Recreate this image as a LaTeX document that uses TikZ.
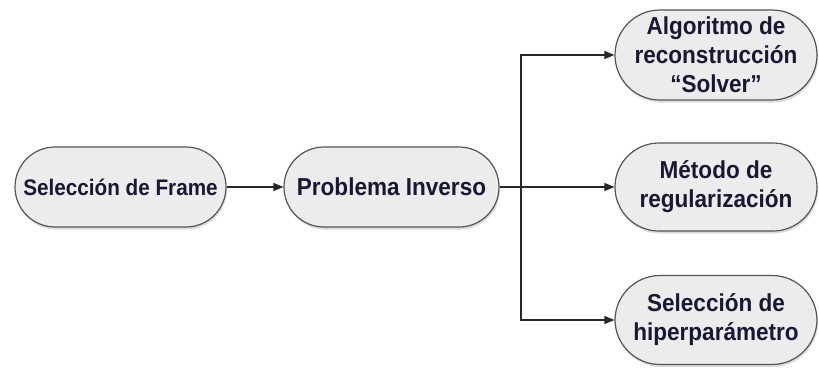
\documentclass[tikz,border=0pt]{standalone}
\usepackage{fontspec}
\setmainfont[FakeStretch=0.92]{Liberation Sans}
\usetikzlibrary{arrows.meta,shadows}
\definecolor{boxfill}{RGB}{236,236,236}
\definecolor{boxline}{RGB}{85,85,85}
\definecolor{txt}{RGB}{24,24,52}
\definecolor{wire}{RGB}{40,40,40}
\begin{document}
\begin{tikzpicture}[x=1pt,y=-1pt,
  pill/.style={draw=boxline, line width=1.2pt, fill=boxfill,
    rounded corners=#1, inner sep=0pt, align=center,
    font=\fontsize{24.5}{29}\selectfont\bfseries, text=txt,
    drop shadow={shadow xshift=1pt, shadow yshift=-2.5pt, fill=black!30, opacity=0.45}},
  wireline/.style={draw=wire, line width=1.3pt},
  arrowline/.style={wireline, -{Triangle[length=10pt,width=8pt]}}]
  \useasboundingbox (0,0) rectangle (819,368);

  % main chain
  \node[pill=40pt, minimum width=211pt, minimum height=80pt,
        font=\fontsize{22.5}{29}\selectfont\bfseries] (frame) at (120.5,187) {Selección de Frame};
  \node[pill=40pt, minimum width=215pt, minimum height=80pt] (inv) at (391.5,187) {Problema Inverso};

  % components of the inverse problem
  \node[pill=45pt, minimum width=202pt, minimum height=90pt] (solver) at (716,55) {Algoritmo de\\reconstrucción\\“Solver”};
  \node[pill=44pt, minimum width=202pt, minimum height=88pt] (reg) at (716,187) {Método de\\regularización};
  \node[pill=45pt, minimum width=202pt, minimum height=89pt] (hyper) at (716,320) {Selección de\\hiperparámetro};

  % connectors
  \coordinate (split) at (521,187);
  \draw[arrowline] (frame.east) -- (inv.west);
  \draw[arrowline] (inv.east) -- (reg.west);
  \draw[arrowline] (split) |- (solver.west);
  \draw[arrowline] (split) |- (hyper.west);
\end{tikzpicture}
\end{document}
